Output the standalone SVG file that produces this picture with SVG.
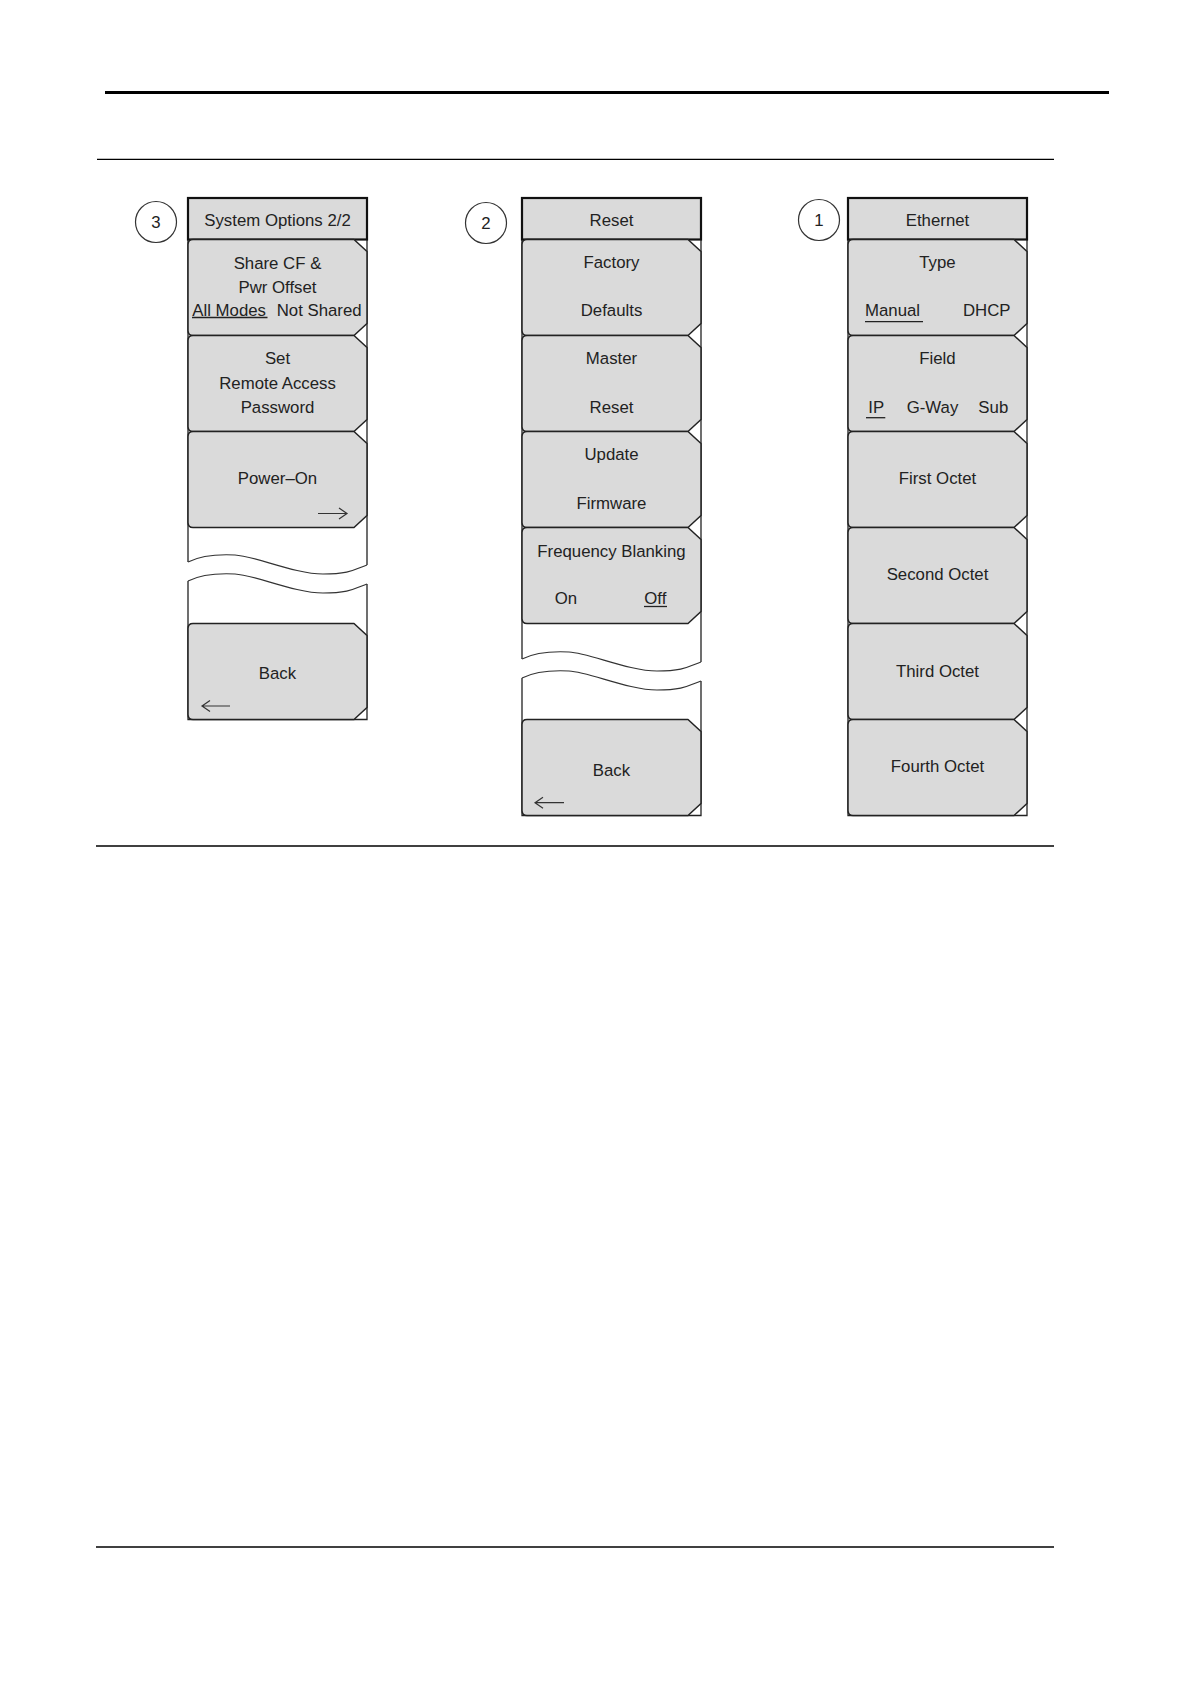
<svg xmlns="http://www.w3.org/2000/svg" width="1191" height="1684" viewBox="0 0 1191 1684">
<style>
  .t{font-family:"Liberation Sans",Arial,sans-serif;font-size:16.8px;fill:#222;text-anchor:middle}
  .ts{font-family:"Liberation Sans",Arial,sans-serif;font-size:16.8px;fill:#222;text-anchor:start}
  .hdr{fill:#dadada;stroke:#111;stroke-width:2.2}
  .btn{fill:#dadada;stroke:#222;stroke-width:1.5;stroke-linejoin:round}
  .frame{fill:none;stroke:#222;stroke-width:1.3}
  .wave{fill:none;stroke:#333;stroke-width:1.2}
  .circ{fill:#fff;stroke:#333;stroke-width:1.2}
  .ul{stroke:#222;stroke-width:1.3}
  .arr{fill:none;stroke:#333;stroke-width:1.2}
  .rule{stroke:#000}
</style>
<defs>
  <path id="wavep" d="M0,0 C12,-6 27,-8 47,-7 S107,12 135,12 S167,7 179,3"/>
</defs>
<rect width="1191" height="1684" fill="#fff"/>
<g id="rules">
  <line class="rule" x1="105" y1="92.5" x2="1109" y2="92.5" stroke-width="3"/>
  <line class="rule" x1="97" y1="159.3" x2="1054" y2="159.3" stroke-width="1.3"/>
  <line class="rule" x1="96" y1="846" x2="1054" y2="846" stroke-width="1.3"/>
  <line class="rule" x1="96" y1="1547" x2="1054" y2="1547" stroke-width="1.3"/>
</g>
<g id="connectors"></g>

<!-- Column 3 : System Options 2/2 -->
<g id="col3">
  <g id="col3-frame">
    <path class="frame" d="M188,239.5 V562 M188,581 V719.5 H367 V584 M367,565 V239.5"/>
    <use href="#wavep" class="wave" transform="translate(188,562)"/>
    <use href="#wavep" class="wave" transform="translate(188,581)"/>
  </g>
  <g id="badge3">
    <circle class="circ" cx="156" cy="222" r="20.5"/>
    <text class="t" x="156" y="228">3</text>
  </g>
  <g id="sysopt-header">
    <rect class="hdr" x="188" y="198" width="179" height="41.5"/>
    <text class="t" x="277.5" y="226">System Options 2/2</text>
  </g>
  <g id="share-cf">
    <path class="btn" d="M188,244.5 Q188,239.5 193,239.5 H354 L367,251.5 V323.5 L354,335.5 H193 Q188,335.5 188,330.5 Z"/>
    <text class="t" x="277.5" y="268.5">Share CF &amp;</text>
    <text class="t" x="277.5" y="292.5">Pwr Offset</text>
    <text class="ts" x="192.3" y="315.5">All Modes</text>
    <line class="ul" x1="192" y1="317.5" x2="267.5" y2="317.5"/>
    <text class="ts" x="276.7" y="315.5">Not Shared</text>
  </g>
  <g id="set-password">
    <path class="btn" d="M188,340.5 Q188,335.5 193,335.5 H354 L367,347.5 V419.5 L354,431.5 H193 Q188,431.5 188,426.5 Z"/>
    <text class="t" x="277.5" y="363.5">Set</text>
    <text class="t" x="277.5" y="388.5">Remote Access</text>
    <text class="t" x="277.5" y="412.5">Password</text>
  </g>
  <g id="power-on">
    <path class="btn" d="M188,436.5 Q188,431.5 193,431.5 H354 L367,443.5 V515.5 L354,527.5 H193 Q188,527.5 188,522.5 Z"/>
    <text class="t" x="277.5" y="483.5">Power–On</text>
    <path class="arr" d="M318,513.5 H347 M339,508 L347,513.5 L339,519"/>
  </g>
  <g id="back3">
    <path class="btn" d="M188,628.5 Q188,623.5 193,623.5 H354 L367,635.5 V707.5 L354,719.5 H193 Q188,719.5 188,714.5 Z"/>
    <text class="t" x="277.5" y="679">Back</text>
    <path class="arr" d="M230,706 H202 M210,700.5 L202,706 L210,711.5"/>
  </g>
</g>

<!-- Column 2 : Reset -->
<g id="col2">
  <g id="col2-frame">
    <path class="frame" d="M522,239.5 V659 M522,678 V815.5 H701 V681 M701,662 V239.5"/>
    <use href="#wavep" class="wave" transform="translate(522,659)"/>
    <use href="#wavep" class="wave" transform="translate(522,678)"/>
  </g>
  <g id="badge2">
    <circle class="circ" cx="486" cy="223" r="20.5"/>
    <text class="t" x="486" y="229">2</text>
  </g>
  <g id="reset-header">
    <rect class="hdr" x="522" y="198" width="179" height="41.5"/>
    <text class="t" x="611.5" y="226">Reset</text>
  </g>
  <g id="factory-defaults">
    <path class="btn" d="M522,244.5 Q522,239.5 527,239.5 H688 L701,251.5 V323.5 L688,335.5 H527 Q522,335.5 522,330.5 Z"/>
    <text class="t" x="611.5" y="268">Factory</text>
    <text class="t" x="611.5" y="316">Defaults</text>
  </g>
  <g id="master-reset">
    <path class="btn" d="M522,340.5 Q522,335.5 527,335.5 H688 L701,347.5 V419.5 L688,431.5 H527 Q522,431.5 522,426.5 Z"/>
    <text class="t" x="611.5" y="364">Master</text>
    <text class="t" x="611.5" y="412.5">Reset</text>
  </g>
  <g id="update-firmware">
    <path class="btn" d="M522,436.5 Q522,431.5 527,431.5 H688 L701,443.5 V515.5 L688,527.5 H527 Q522,527.5 522,522.5 Z"/>
    <text class="t" x="611.5" y="460">Update</text>
    <text class="t" x="611.5" y="508.5">Firmware</text>
  </g>
  <g id="freq-blanking">
    <path class="btn" d="M522,532.5 Q522,527.5 527,527.5 H688 L701,539.5 V611.5 L688,623.5 H527 Q522,623.5 522,618.5 Z"/>
    <text class="t" x="611.5" y="556.5">Frequency Blanking</text>
    <text class="t" x="566" y="604">On</text>
    <text class="t" x="655.3" y="604">Off</text>
    <line class="ul" x1="644" y1="606.5" x2="667" y2="606.5"/>
  </g>
  <g id="back2">
    <path class="btn" d="M522,724.5 Q522,719.5 527,719.5 H688 L701,731.5 V803.5 L688,815.5 H527 Q522,815.5 522,810.5 Z"/>
    <text class="t" x="611.5" y="776">Back</text>
    <path class="arr" d="M564,802.7 H535 M543,797.2 L535,802.7 L543,808.2"/>
  </g>
</g>

<!-- Column 1 : Ethernet -->
<g id="col1">
  <g id="col1-frame">
    <path class="frame" d="M848,239.5 V815.5 H1027 V239.5"/>
  </g>
  <g id="badge1">
    <circle class="circ" cx="819" cy="220" r="20.5"/>
    <text class="t" x="819" y="226">1</text>
  </g>
  <g id="ethernet-header">
    <rect class="hdr" x="848" y="198" width="179" height="41.5"/>
    <text class="t" x="937.5" y="226">Ethernet</text>
  </g>
  <g id="type">
    <path class="btn" d="M848,244.5 Q848,239.5 853,239.5 H1014 L1027,251.5 V323.5 L1014,335.5 H853 Q848,335.5 848,330.5 Z"/>
    <text class="t" x="937.5" y="267.5">Type</text>
    <text class="ts" x="865" y="316">Manual</text>
    <line class="ul" x1="865" y1="321.7" x2="923" y2="321.7"/>
    <text class="t" x="986.7" y="316">DHCP</text>
  </g>
  <g id="field">
    <path class="btn" d="M848,340.5 Q848,335.5 853,335.5 H1014 L1027,347.5 V419.5 L1014,431.5 H853 Q848,431.5 848,426.5 Z"/>
    <text class="t" x="937.5" y="364">Field</text>
    <text class="ts" x="868.3" y="412.5">IP</text>
    <line class="ul" x1="866" y1="417.7" x2="885.3" y2="417.7"/>
    <text class="t" x="932.5" y="412.5">G-Way</text>
    <text class="t" x="993.3" y="412.5">Sub</text>
  </g>
  <g id="first-octet">
    <path class="btn" d="M848,436.5 Q848,431.5 853,431.5 H1014 L1027,443.5 V515.5 L1014,527.5 H853 Q848,527.5 848,522.5 Z"/>
    <text class="t" x="937.5" y="483.5">First Octet</text>
  </g>
  <g id="second-octet">
    <path class="btn" d="M848,532.5 Q848,527.5 853,527.5 H1014 L1027,539.5 V611.5 L1014,623.5 H853 Q848,623.5 848,618.5 Z"/>
    <text class="t" x="937.5" y="580">Second Octet</text>
  </g>
  <g id="third-octet">
    <path class="btn" d="M848,628.5 Q848,623.5 853,623.5 H1014 L1027,635.5 V707.5 L1014,719.5 H853 Q848,719.5 848,714.5 Z"/>
    <text class="t" x="937.5" y="676.5">Third Octet</text>
  </g>
  <g id="fourth-octet">
    <path class="btn" d="M848,724.5 Q848,719.5 853,719.5 H1014 L1027,731.5 V803.5 L1014,815.5 H853 Q848,815.5 848,810.5 Z"/>
    <text class="t" x="937.5" y="772">Fourth Octet</text>
  </g>
</g>
</svg>
